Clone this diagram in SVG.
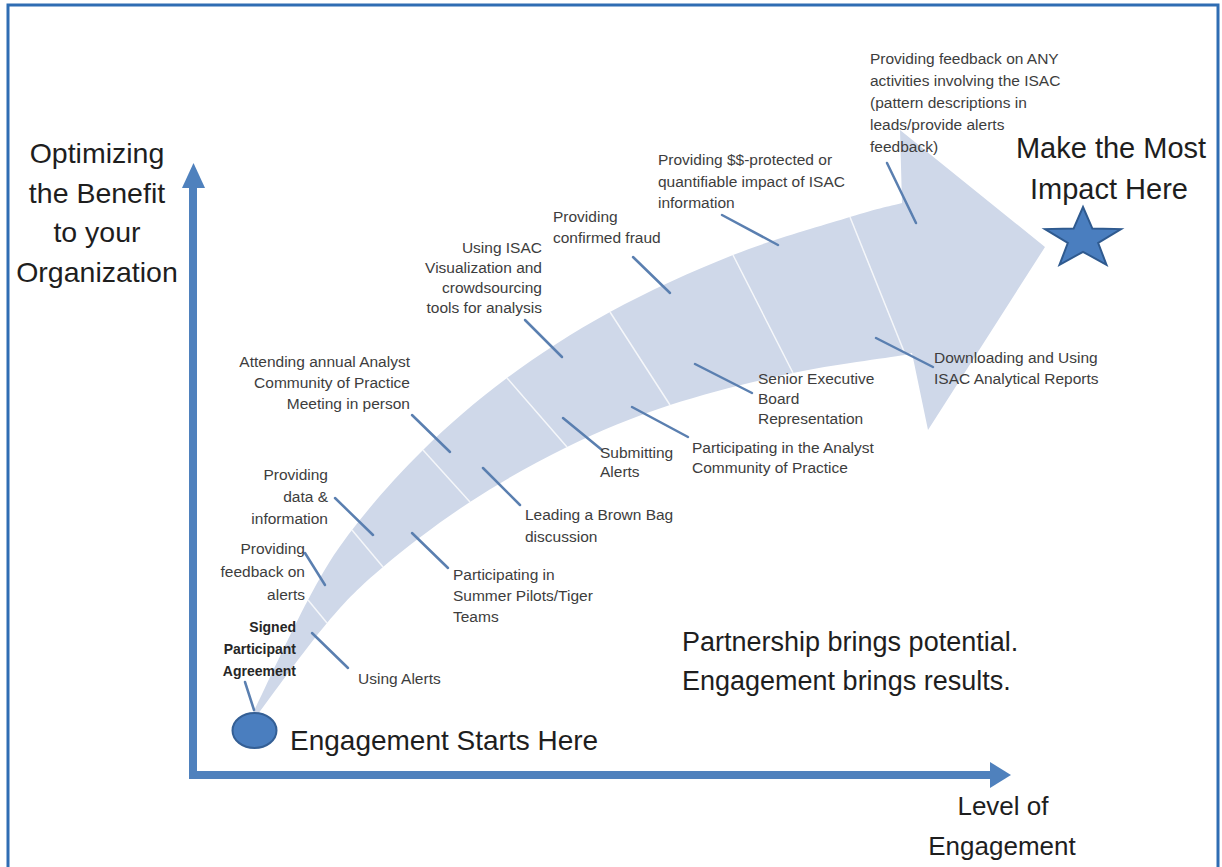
<svg xmlns="http://www.w3.org/2000/svg" width="1222" height="867" viewBox="0 0 1222 867">
<style>
.lbl{font-family:"Liberation Sans",Arial,sans-serif;font-size:15.5px;fill:#3d3d3d}
.lbl-b{font-family:"Liberation Sans",Arial,sans-serif;font-size:14px;font-weight:bold;fill:#262626}
.big{font-family:"Liberation Sans",Arial,sans-serif;fill:#1e1e1e}
.lead{stroke:#5a7fb0;stroke-width:2.5;fill:none;stroke-linecap:round}
.div{stroke:#ffffff;stroke-width:1.5;opacity:0.8}
.axis{stroke:#4f81bd;stroke-width:8;fill:none}
.axhead{fill:#4f81bd}
</style>
<rect x="0" y="0" width="1222" height="867" fill="#ffffff"/>
<rect id="frame" x="8" y="5" width="1210" height="880" fill="none" stroke="#2f6db3" stroke-width="3"/>

<g id="growth-arrow">
<path fill="#cfd8e9" d="M253,713 C262.2,694.2 291.5,630.5 308,600 C324.5,569.5 332.8,555 352,530 C371.2,505 397.2,475.3 423,450 C448.8,424.7 475.8,401 507,378 C538.2,355 572.3,332.5 610,312 C647.7,291.5 693,270.8 733,255 C773,239.2 821.8,225.7 850,217 C878.2,208.3 893.3,205.3 902,203 L900,130 L1045,247 L928,430 L912,353 L905,355 C886.3,358 832.2,364.7 793,373 C753.8,381.3 707.7,392.7 670,405 C632.3,417.3 600.3,430.8 567,447 C533.7,463.2 500.7,482 470,502 C439.3,522 406.8,546.8 383,567 C359.2,587.2 347.8,598.5 327,623 C306.2,647.5 269.5,698.8 258,714 Z"/>
<g id="dividers">
<line class="div" x1="308" y1="600" x2="327" y2="623"/>
<line class="div" x1="352" y1="530" x2="383" y2="567"/>
<line class="div" x1="423" y1="450" x2="470" y2="502"/>
<line class="div" x1="507" y1="378" x2="567" y2="447"/>
<line class="div" x1="610" y1="312" x2="670" y2="405"/>
<line class="div" x1="733" y1="255" x2="793" y2="373"/>
<line class="div" x1="850" y1="217" x2="905" y2="354"/>
</g>
</g>

<g id="axes">
<line class="axis" x1="193" y1="778" x2="193" y2="185"/>
<polygon class="axhead" points="182,188 193.5,163 205,188"/>
<line class="axis" x1="189" y1="775" x2="992" y2="775"/>
<polygon class="axhead" points="990,762 1011,775 990,788"/>
</g>

<g id="connectors">
<line class="lead" x1="245" y1="682" x2="254" y2="710"/>
<line class="lead" x1="312" y1="633" x2="348" y2="668"/>
<line class="lead" x1="305" y1="553" x2="325" y2="585"/>
<line class="lead" x1="335" y1="498" x2="373" y2="535"/>
<line class="lead" x1="412" y1="533" x2="448" y2="568"/>
<line class="lead" x1="412" y1="415" x2="450" y2="452"/>
<line class="lead" x1="483" y1="468" x2="520" y2="505"/>
<line class="lead" x1="525" y1="320" x2="562" y2="357"/>
<line class="lead" x1="633" y1="257" x2="670" y2="293"/>
<line class="lead" x1="563" y1="418" x2="602" y2="450"/>
<line class="lead" x1="632" y1="407" x2="688" y2="437"/>
<line class="lead" x1="695" y1="364" x2="752" y2="393"/>
<line class="lead" x1="722" y1="215" x2="778" y2="245"/>
<line class="lead" x1="887" y1="163" x2="916" y2="223"/>
<line class="lead" x1="876" y1="338" x2="933" y2="367"/>
</g>

<g id="start">
<ellipse cx="254.5" cy="730.5" rx="22" ry="17.5" fill="#4a7ebf" stroke="#345f95" stroke-width="2"/>
<text class="big" x="290" y="750" font-size="28">Engagement Starts Here</text>
</g>

<g id="goal">
<polygon points="1083,207 1092.4,228.6 1121,229.1 1098.2,243 1106.5,264.9 1083,251.8 1059.5,264.9 1067.8,243 1045,229.1 1073.6,228.6" fill="#4a7ebf" stroke="#2f5a8f" stroke-width="2" stroke-linejoin="miter"/>
<text class="big" font-size="29" text-anchor="middle"><tspan x="1111" y="158">Make the Most</tspan><tspan x="1109" y="199">Impact Here</tspan></text>
</g>

<g id="y-label">
<text class="big" font-size="28.5" text-anchor="middle"><tspan x="97" y="163">Optimizing</tspan><tspan x="97" y="203">the Benefit</tspan><tspan x="97" y="242">to your</tspan><tspan x="97" y="282">Organization</tspan></text>
</g>

<g id="x-label">
<text class="big" font-size="26" text-anchor="middle"><tspan x="1003" y="815">Level of</tspan><tspan x="1002" y="855">Engagement</tspan></text>
</g>

<g id="slogan">
<text class="big" font-size="27"><tspan x="682" y="651">Partnership brings potential.</tspan><tspan x="682" y="690">Engagement brings results.</tspan></text>
</g>

<g id="n-signed">
<text class="lbl-b" text-anchor="end"><tspan x="296" y="632">Signed</tspan><tspan x="296" y="654">Participant</tspan><tspan x="296" y="676">Agreement</tspan></text>
</g>
<g id="n-using-alerts">
<text class="lbl" x="358" y="684">Using Alerts</text>
</g>
<g id="n-feedback-alerts">
<text class="lbl" text-anchor="end"><tspan x="305" y="554">Providing</tspan><tspan x="305" y="577">feedback on</tspan><tspan x="305" y="600">alerts</tspan></text>
</g>
<g id="n-data">
<text class="lbl" text-anchor="end"><tspan x="328" y="480">Providing</tspan><tspan x="328" y="502">data &amp;</tspan><tspan x="328" y="524">information</tspan></text>
</g>
<g id="n-summer">
<text class="lbl"><tspan x="453" y="580">Participating in</tspan><tspan x="453" y="601">Summer Pilots/Tiger</tspan><tspan x="453" y="622">Teams</tspan></text>
</g>
<g id="n-attending">
<text class="lbl" text-anchor="end"><tspan x="410" y="367">Attending annual Analyst</tspan><tspan x="410" y="388">Community of Practice</tspan><tspan x="410" y="409">Meeting in person</tspan></text>
</g>
<g id="n-brownbag">
<text class="lbl"><tspan x="525" y="520">Leading a Brown Bag</tspan><tspan x="525" y="542">discussion</tspan></text>
</g>
<g id="n-visualization">
<text class="lbl" text-anchor="end"><tspan x="542" y="253">Using ISAC</tspan><tspan x="542" y="273">Visualization and</tspan><tspan x="542" y="293">crowdsourcing</tspan><tspan x="542" y="313">tools for analysis</tspan></text>
</g>
<g id="n-fraud">
<text class="lbl"><tspan x="553" y="222">Providing</tspan><tspan x="553" y="243">confirmed fraud</tspan></text>
</g>
<g id="n-submitting">
<text class="lbl"><tspan x="600" y="458">Submitting</tspan><tspan x="600" y="477">Alerts</tspan></text>
</g>
<g id="n-community">
<text class="lbl"><tspan x="692" y="453">Participating in the Analyst</tspan><tspan x="692" y="473">Community of Practice</tspan></text>
</g>
<g id="n-senior">
<text class="lbl"><tspan x="758" y="384">Senior Executive</tspan><tspan x="758" y="404">Board</tspan><tspan x="758" y="424">Representation</tspan></text>
</g>
<g id="n-protected">
<text class="lbl"><tspan x="658" y="165">Providing $$-protected or</tspan><tspan x="658" y="187">quantifiable impact of ISAC</tspan><tspan x="658" y="208">information</tspan></text>
</g>
<g id="n-feedback-any">
<text class="lbl"><tspan x="870" y="64">Providing feedback on ANY</tspan><tspan x="870" y="86">activities involving the ISAC</tspan><tspan x="870" y="108">(pattern descriptions in</tspan><tspan x="870" y="130">leads/provide alerts</tspan><tspan x="870" y="152">feedback)</tspan></text>
</g>
<g id="n-downloading">
<text class="lbl"><tspan x="934" y="363">Downloading and Using</tspan><tspan x="934" y="384">ISAC Analytical Reports</tspan></text>
</g>
</svg>
